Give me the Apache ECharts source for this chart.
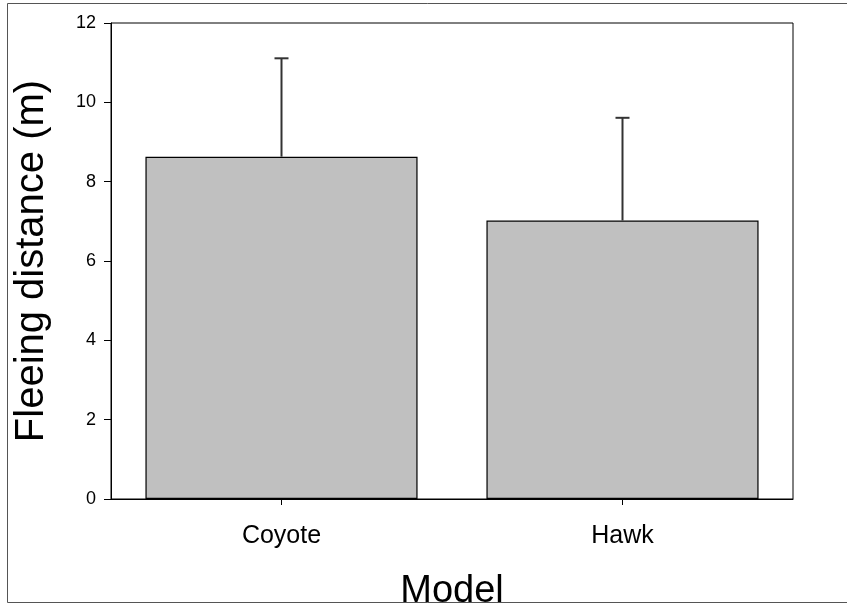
<!DOCTYPE html>
<html>
<head>
<meta charset="utf-8">
<script src="https://cdn.jsdelivr.net/npm/echarts@6/dist/echarts.min.js"></script>
<style>
  html, body { margin: 0; padding: 0; background: #fff; }
  #chart { width: 847px; height: 604px; }
</style>
</head>
<body>
<div id="chart"></div>
<script>
// Mean fleeing distance per predator model, with upper standard-error whiskers
const categories = ['Coyote', 'Hawk'];
const meanDistance = [8.63, 7.02];
const errorAbove = [2.48, 2.59];
const yTicks = [0, 2, 4, 6, 8, 10, 12];

const FONT = '"Liberation Sans", Arial, sans-serif';

const chart = echarts.init(document.getElementById('chart'), null, { renderer: 'canvas' });

const errorData = categories.map((c, i) => [i, meanDistance[i], meanDistance[i] + errorAbove[i]]);

chart.setOption({
  animation: false,
  backgroundColor: '#ffffff',
  graphic: [{
    type: 'rect',
    shape: { x: 7.5, y: 3.5, width: 900, height: 599 },
    style: { fill: 'none', stroke: '#555', lineWidth: 1 },
    silent: true,
    z: 0
  }],
  grid: {
    left: 111, top: 23, right: 54, bottom: 105,
    containLabel: false,
    outerBoundsMode: 'none',
    show: true, borderColor: '#000', borderWidth: 1,
    backgroundColor: 'transparent'
  },
  xAxis: {
    type: 'category',
    data: categories,
    name: 'Model',
    nameLocation: 'middle',
    nameGap: 74,
    nameTextStyle: { fontFamily: FONT, fontSize: 38, color: '#000' },
    axisLine: { show: true, lineStyle: { color: '#000', width: 1 } },
    axisTick: { show: true, alignWithLabel: true, length: 6, lineStyle: { color: '#000' } },
    axisLabel: { fontFamily: FONT, fontSize: 25, color: '#000', margin: 25 },
    splitLine: { show: false }
  },
  yAxis: {
    type: 'value',
    min: 0, max: 12, interval: 2,
    name: 'Fleeing distance (m)',
    nameLocation: 'middle',
    nameGap: 59,
    nameRotate: 90,
    nameTextStyle: { fontFamily: FONT, fontSize: 40, color: '#000' },
    axisLine: { show: true, lineStyle: { color: '#000', width: 1 } },
    axisTick: { show: true, length: 7, lineStyle: { color: '#000' } },
    axisLabel: {
      fontFamily: FONT, fontSize: 18, color: '#000', margin: 15,
      formatter: v => (yTicks.indexOf(v) >= 0 ? String(v) : '')
    },
    splitLine: { show: false }
  },
  series: [
    {
      type: 'bar',
      data: meanDistance,
      barWidth: '79.8%',
      itemStyle: { color: '#c0c0c0', borderColor: '#000', borderWidth: 1.2 },
      z: 2
    },
    {
      type: 'custom',
      data: errorData,
      z: 3,
      renderItem: function (params, api) {
        const idx = api.value(0);
        const base = api.coord([idx, api.value(1)]);
        const top = api.coord([idx, api.value(2)]);
        const half = 7;
        return {
          type: 'group',
          children: [
            { type: 'line', shape: { x1: base[0], y1: base[1], x2: top[0], y2: top[1] },
              style: { stroke: '#333', lineWidth: 2 } },
            { type: 'line', shape: { x1: top[0] - half, y1: top[1], x2: top[0] + half, y2: top[1] },
              style: { stroke: '#333', lineWidth: 2 } }
          ]
        };
      }
    }
  ]
});
</script>
</body>
</html>
